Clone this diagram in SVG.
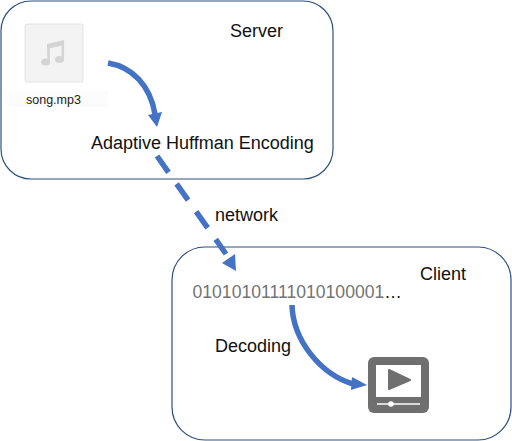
<svg xmlns="http://www.w3.org/2000/svg" width="512" height="441" viewBox="0 0 512 441">
<style>
.box{fill:#fff;stroke:#2f4f7f;stroke-width:1.2}
.lbl{font-family:"Liberation Sans",Arial,sans-serif;font-size:18px;fill:#111}
.conn{fill:none;stroke:#4472c4;stroke-width:5.500}
.head{fill:#4472c4}
</style>
<rect width="512" height="441" fill="#fff"/>
<g id="server"><rect class="box" x="1" y="1" width="332" height="178" rx="30"/><text class="lbl" x="230" y="37">Server</text></g>
<g id="client"><rect class="box" x="172" y="247" width="339" height="193" rx="33"/><text class="lbl" x="420" y="280">Client</text></g>
<g id="song">
<rect x="4" y="90" width="104" height="17" fill="#fcfcfc"/>
<rect x="25" y="24" width="58" height="58" rx="2" fill="#f3f3f3" stroke="#e4e4e4"/>
<ellipse cx="45.500" cy="62" rx="4.500" ry="3.500" fill="#d4d4d4"/>
<ellipse cx="59.500" cy="59.500" rx="4.500" ry="3.500" fill="#d4d4d4"/>
<path d="M47 44 L64 40 V45 L47 49Z" fill="#d4d4d4"/>
<path d="M48.500 44 V62 M62.800 41 V59" stroke="#d4d4d4" stroke-width="2.500"/>
<text x="26" y="104" font-family="'Liberation Sans',Arial,sans-serif" font-size="12.500px" fill="#222">song.mp3</text>
</g>
<g id="encoding"><text class="lbl" x="91" y="149">Adaptive Huffman Encoding</text></g>
<g id="network"><text class="lbl" x="215" y="221">network</text></g>
<g id="bits"><text x="192.500" y="298" font-family="'Liberation Sans',Arial,sans-serif" font-size="17.600px" fill="#747474">01010101111010100001<tspan fill="#111">…</tspan></text></g>
<g id="decoding"><text class="lbl" x="215" y="352">Decoding</text></g>
<g id="player">
<rect x="368" y="357" width="61" height="56" rx="6" fill="#6f6f6f"/>
<rect x="376" y="365" width="45" height="32" fill="#fff"/>
<path d="M389 370 L410 380 L389 389Z" fill="#6f6f6f" stroke="#6f6f6f" stroke-width="2" stroke-linejoin="round"/>
<path d="M377 404 H420" stroke="#fff" stroke-width="1.500"/>
<circle cx="391" cy="404" r="2.800" fill="#fff"/>
</g>
<g id="connectors">
<path class="conn" d="M108 63 C132 67 150 85 155 114"/>
<path class="head" d="M148 115 L162 112 L157 127Z"/>
<path class="conn" stroke-dasharray="20 14" d="M157 156 L226 254"/>
<path class="head" d="M222 263 L235 254 L236 271Z"/>
<path class="conn" d="M292 305 C293 340 320 374 353 384"/>
<path class="head" d="M352 377 L367 385 L351 390Z"/>
</g>
</svg>
